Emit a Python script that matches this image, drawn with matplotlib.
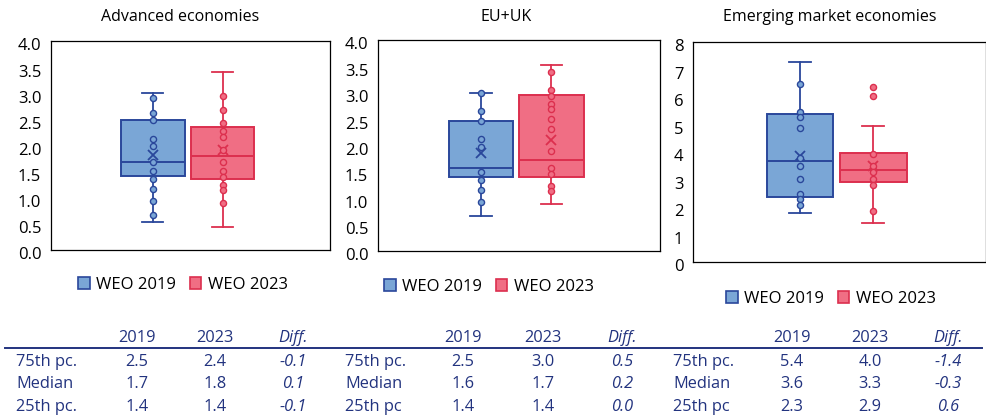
import matplotlib
matplotlib.use("Agg")
import matplotlib.pyplot as plt
import matplotlib.transforms as mtransforms
from matplotlib.patches import Patch

plt.rcParams['font.family'] = ['Open Sans', 'DejaVu Sans']

# ---------------------------------------------------------------------------
# data
titles = ['Advanced economies', 'EU+UK', 'Emerging market economies']
series = ['WEO 2019', 'WEO 2023']

# box stats per panel: [2019, 2023]
q1 = [[1.42, 1.35], [1.41, 1.41], [2.35, 2.91]]
med = [[1.69, 1.79], [1.58, 1.73], [3.66, 3.36]]
q3 = [[2.49, 2.35], [2.47, 2.95], [5.39, 3.96]]
whis_lo = [[0.53, 0.44], [0.66, 0.89], [1.79, 1.42]]
whis_hi = [[3.00, 3.40], [2.99, 3.53], [7.28, 4.95]]
means = [[1.81, 1.91], [1.85, 2.11], [3.87, 3.49]]
outliers = [[[], []], [[], []], [[], [6.36, 6.03]]]

# inner points
points = [
    [[2.90, 2.63, 2.48, 2.12, 1.99, 1.69, 1.51, 1.36, 1.17, 0.94, 0.67],
     [2.95, 2.68, 2.44, 2.28, 2.17, 1.91, 1.68, 1.51, 1.39, 1.25, 1.14, 0.90]],
    [[2.99, 2.66, 2.46, 2.12, 1.97, 1.50, 1.34, 1.16, 0.93],
     [3.40, 3.06, 2.94, 2.78, 2.69, 2.50, 2.32, 1.90, 1.58, 1.46, 1.24, 1.13]],
    [[6.46, 5.47, 5.27, 4.89, 3.77, 3.50, 3.03, 2.49, 2.29, 2.08],
     [3.93, 3.49, 3.26, 3.02, 2.80, 1.85]],
]

y_max = [4, 4, 8]
y_ticks = [[0, 0.5, 1, 1.5, 2, 2.5, 3, 3.5, 4],
           [0, 0.5, 1, 1.5, 2, 2.5, 3, 3.5, 4],
           [0, 1, 2, 3, 4, 5, 6, 7, 8]]
tick_fmt = ['{:.1f}', '{:.1f}', '{:.0f}']

# summary table
row_labels = [['75th pc.', 'Median', '25th pc.'],
              ['75th pc.', 'Median', '25th pc'],
              ['75th pc.', 'Median', '25th pc']]
col_heads = ['2019', '2023', 'Diff.']
tab_2019 = [['2.5', '1.7', '1.4'], ['2.5', '1.6', '1.4'], ['5.4', '3.6', '2.3']]
tab_2023 = [['2.4', '1.8', '1.4'], ['3.0', '1.7', '1.4'], ['4.0', '3.3', '2.9']]
tab_diff = [['-0.1', '0.1', '-0.1'], ['0.5', '0.2', '0.0'], ['-1.4', '-0.3', '0.6']]

# ---------------------------------------------------------------------------
fill_cols = ['#7aa6d6', '#f06e84']
edge_cols = ['#2a479b', '#dc2f4e']
navy = '#22337f'
wt = 'medium'

W, H = 987, 418
fig = plt.figure(figsize=(W / 100, H / 100), dpi=100)

# axes boxes in pixels: left, right, top, bottom
ax_px = [(51, 330, 41, 250), (378, 660, 40, 251), (693, 986, 42, 262)]
title_x = [180, 506, 830]
legend_pos = [(183, 285), (489, 287), (831, 299)]

for i in range(3):
    l, r, t, b = ax_px[i]
    ax = fig.add_axes([l / W, 1 - b / H, (r - l) / W, (b - t) / H])
    pos = [0.365, 0.615]
    for k in range(2):
        st = dict(med=med[i][k], q1=q1[i][k], q3=q3[i][k],
                  whislo=whis_lo[i][k], whishi=whis_hi[i][k],
                  mean=means[i][k], fliers=outliers[i][k])
        ax.bxp([st], positions=[pos[k]], widths=0.228, patch_artist=True,
               showmeans=True, showfliers=True, capwidths=0.075,
               boxprops=dict(facecolor=fill_cols[k], edgecolor=edge_cols[k], lw=1.4),
               medianprops=dict(color=edge_cols[k], lw=1.4),
               whiskerprops=dict(color=edge_cols[k], lw=1.3),
               capprops=dict(color=edge_cols[k], lw=1.3),
               meanprops=dict(marker='x', markeredgecolor=edge_cols[k],
                              markersize=7.5, markeredgewidth=1.3),
               flierprops=dict(marker='o', markerfacecolor=fill_cols[k],
                               markeredgecolor=edge_cols[k], markersize=4.4,
                               markeredgewidth=1.0),
               manage_ticks=False)
        ax.plot([pos[k]] * len(points[i][k]), points[i][k], 'o', ls='none',
                markerfacecolor=fill_cols[k], markeredgecolor=edge_cols[k],
                markersize=4.4, markeredgewidth=1.0, zorder=4)

    ax.set_xlim(0, 1)
    ax.set_ylim(0, y_max[i])
    ax.set_xticks([])
    ax.set_yticks(y_ticks[i])
    ax.set_yticklabels([tick_fmt[i].format(v) for v in y_ticks[i]])
    ax.tick_params(axis='y', length=0, pad=7, labelsize=12, labelcolor='black')
    offset = mtransforms.ScaledTranslation(0, -2.5 / 72, fig.dpi_scale_trans)
    for lab in ax.get_yticklabels():
        lab.set_transform(lab.get_transform() + offset)
        lab.set_fontweight(wt)
    for sp in ax.spines.values():
        sp.set_color('black')
        sp.set_linewidth(0.9)

    fig.text(title_x[i] / W, 1 - 17 / H, titles[i], ha='center', va='center',
             fontsize=11.5, color='black', fontweight=wt)

    handles = [Patch(facecolor=fill_cols[k], edgecolor=edge_cols[k], lw=1.2)
               for k in range(2)]
    lx, ly = legend_pos[i]
    fig.legend(handles, series, loc='center', ncol=2, frameon=False,
               bbox_to_anchor=(lx / W, 1 - ly / H),
               prop=dict(size=12, weight=wt),
               handlelength=0.7, handleheight=0.7, handletextpad=0.4,
               columnspacing=0.8, borderaxespad=0)

# ---------------------------------------------------------------------------
# table underneath
label_x = [16, 345, 673]
col_x = [[137, 215, 293], [463, 543, 622], [792, 870, 948]]
head_y = 338
row_y = [362, 384, 407]
tfs = 11.8

for i in range(3):
    for j, head in enumerate(col_heads):
        fig.text(col_x[i][j] / W, 1 - head_y / H, head, ha='center', va='center',
                 fontsize=tfs, color=navy, fontweight=wt,
                 style='italic' if j == 2 else 'normal')
    for r in range(3):
        y = 1 - row_y[r] / H
        fig.text(label_x[i] / W, y, row_labels[i][r], ha='left', va='center',
                 fontsize=tfs, color=navy, fontweight=wt)
        fig.text(col_x[i][0] / W, y, tab_2019[i][r], ha='center', va='center',
                 fontsize=tfs, color=navy, fontweight=wt)
        fig.text(col_x[i][1] / W, y, tab_2023[i][r], ha='center', va='center',
                 fontsize=tfs, color=navy, fontweight=wt)
        fig.text(col_x[i][2] / W, y, tab_diff[i][r], ha='center', va='center',
                 fontsize=tfs, color=navy, fontweight=wt, style='italic')

fig.add_artist(plt.Line2D([5 / W, 982 / W], [1 - 348 / H, 1 - 348 / H],
                          transform=fig.transFigure, color=navy, lw=1.4))

fig.savefig('out.png', dpi=100)
